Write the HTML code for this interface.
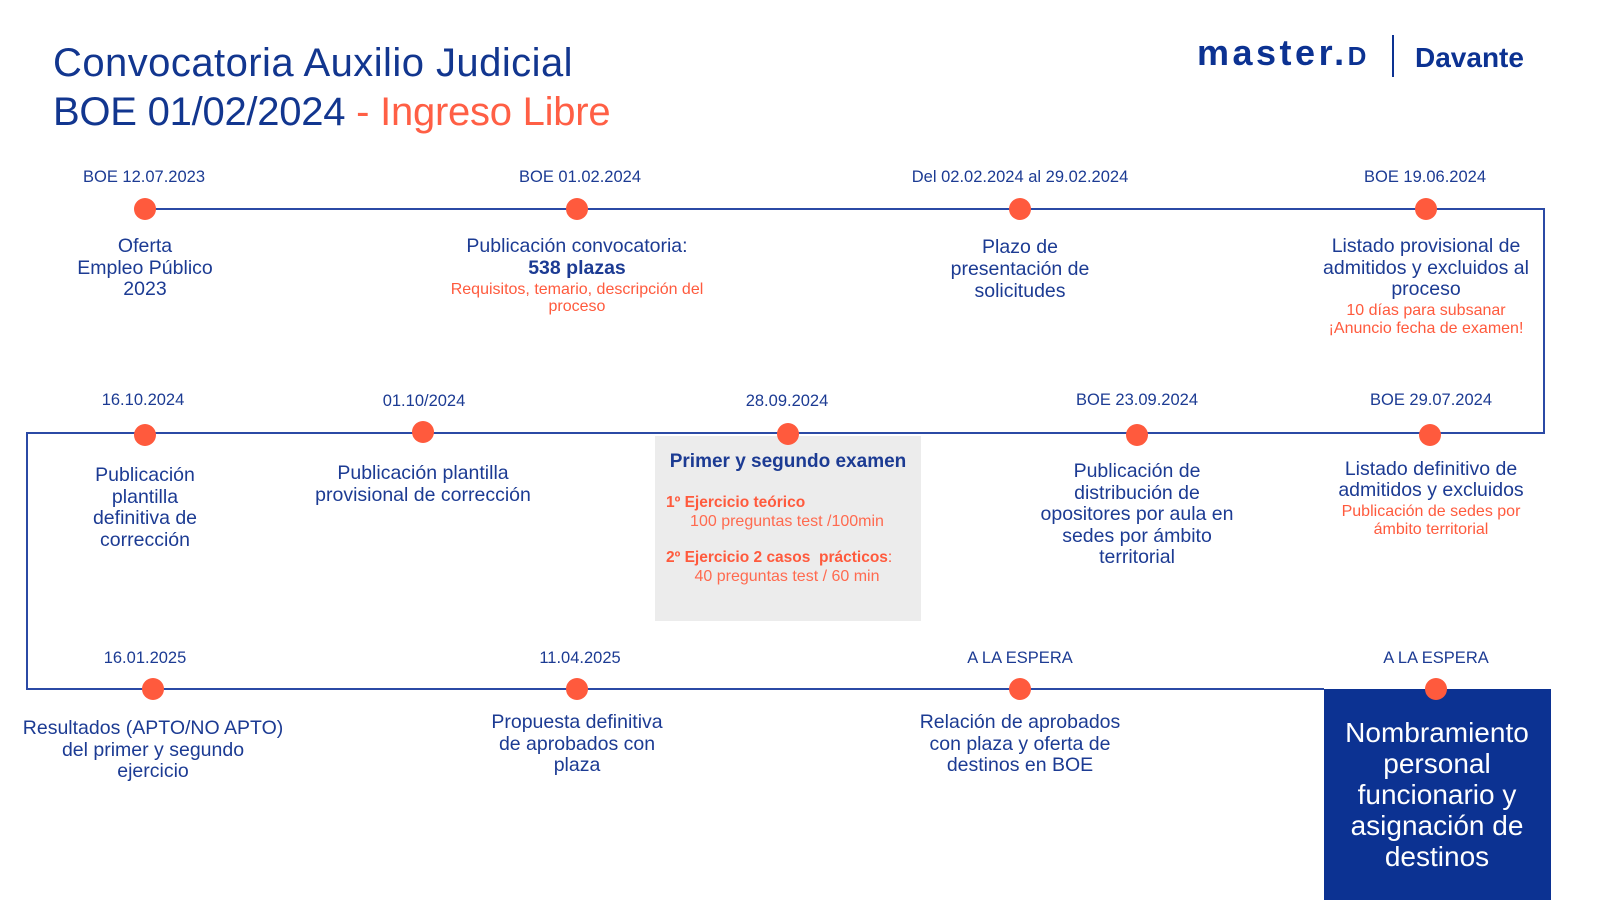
<!DOCTYPE html>
<html>
<head>
<meta charset="utf-8">
<style>
  html,body{margin:0;padding:0;}
  body{width:1600px;height:900px;position:relative;overflow:hidden;background:#fff;font-family:"Liberation Sans",Arial,sans-serif;color:#1c3b93;}
  .a{position:absolute;white-space:nowrap;}
  .c{position:absolute;white-space:nowrap;text-align:center;transform:translateX(-50%);}
  .date{font-size:16.5px;line-height:20px;color:#1c3b93;}
  .lbl{font-size:19.5px;line-height:21.5px;color:#1c3b93;}
  .or{color:#ff5a3d;}
  .sub{font-size:16px;line-height:17.5px;color:#ff5a3d;}
  svg{position:absolute;left:0;top:0;}
</style>
</head>
<body>

<svg width="1600" height="900" viewBox="0 0 1600 900">
  <rect x="655" y="436" width="266" height="185" fill="#ececec"/>
  <rect x="1324" y="689" width="227" height="211" fill="#0c3292"/>
  <g stroke="#2b4aa5" stroke-width="2" fill="none">
    <polyline points="145,209 1544,209 1544,433 27,433 27,689 1324,689"/>
  </g>
  <g fill="#ff5a3d">
    <circle cx="145" cy="209" r="11"/>
    <circle cx="577" cy="209" r="11"/>
    <circle cx="1020" cy="209" r="11"/>
    <circle cx="1426" cy="209" r="11"/>

    <circle cx="145" cy="435" r="11"/>
    <circle cx="423" cy="432" r="11"/>
    <circle cx="788" cy="434" r="11"/>
    <circle cx="1137" cy="435" r="11"/>
    <circle cx="1430" cy="435" r="11"/>

    <circle cx="153" cy="689" r="11"/>
    <circle cx="577" cy="689" r="11"/>
    <circle cx="1020" cy="689" r="11"/>
    <circle cx="1436" cy="689" r="11"/>
  </g>
</svg>

<!-- Title -->
<div class="a" style="left:53px;top:39px;font-size:40px;line-height:49px;color:#12368f;letter-spacing:0.45px;">Convocatoria Auxilio Judicial</div>
<div class="a" style="left:53px;top:88px;font-size:40px;line-height:49px;color:#12368f;letter-spacing:-0.25px;">BOE 01/02/2024 <span style="color:#ff5f45;">- Ingreso Libre</span></div>

<!-- Logo -->
<div class="a" style="left:1197px;top:35px;font-size:36px;line-height:36px;font-weight:bold;color:#0c3292;letter-spacing:3.5px;">master.<span style="font-size:26px;">D</span></div>
<div class="a" style="left:1392px;top:35px;width:2px;height:42px;background:#0c3292;"></div>
<div class="a" style="left:1415px;top:44px;font-size:28px;line-height:28px;font-weight:bold;color:#0c3292;">Davante</div>

<!-- Row 1 dates -->
<div class="c date" style="left:144px;top:167px;">BOE 12.07.2023</div>
<div class="c date" style="left:580px;top:167px;">BOE 01.02.2024</div>
<div class="c date" style="left:1020px;top:167px;">Del 02.02.2024 al 29.02.2024</div>
<div class="c date" style="left:1425px;top:167px;">BOE 19.06.2024</div>

<!-- Row 1 labels -->
<div class="c lbl" style="left:145px;top:236px;">Oferta<br>Empleo Público<br>2023</div>
<div class="c lbl" style="left:577px;top:236px;">Publicación convocatoria:<br><b>538 plazas</b></div>
<div class="c sub" style="left:577px;top:281px;line-height:17px;">Requisitos, temario, descripción del<br>proceso</div>
<div class="c lbl" style="left:1020px;top:236px;line-height:22px;">Plazo de<br>presentación de<br>solicitudes</div>
<div class="c lbl" style="left:1426px;top:236px;">Listado provisional de<br>admitidos y excluidos al<br>proceso</div>
<div class="c sub" style="left:1426px;top:302px;">10 días para subsanar<br>¡Anuncio fecha de examen!</div>

<!-- Row 2 dates -->
<div class="c date" style="left:143px;top:390px;">16.10.2024</div>
<div class="c date" style="left:424px;top:391px;">01.10/2024</div>
<div class="c date" style="left:787px;top:391px;">28.09.2024</div>
<div class="c date" style="left:1137px;top:390px;">BOE 23.09.2024</div>
<div class="c date" style="left:1431px;top:390px;">BOE 29.07.2024</div>

<!-- Row 2 labels -->
<div class="c lbl" style="left:145px;top:465px;line-height:21.7px;">Publicación<br>plantilla<br>definitiva de<br>corrección</div>
<div class="c lbl" style="left:423px;top:462px;line-height:22px;">Publicación plantilla<br>provisional de corrección</div>

<!-- exam box content -->
<div class="c" style="left:788px;top:451px;font-size:19px;line-height:22px;font-weight:bold;color:#1c3b93;">Primer y segundo examen</div>
<div class="a" style="left:666px;top:494px;font-size:15.5px;line-height:18px;font-weight:bold;color:#ff5a3d;">1º Ejercicio teórico</div>
<div class="c" style="left:787px;top:513px;font-size:16px;line-height:18px;color:#ff6a4f;">100 preguntas test /100min</div>
<div class="a" style="left:666px;top:549px;font-size:15.5px;line-height:18px;font-weight:bold;color:#ff5a3d;">2º Ejercicio 2 casos&nbsp; prácticos<span style="font-weight:normal;">:</span></div>
<div class="c" style="left:787px;top:568px;font-size:16px;line-height:18px;color:#ff6a4f;">40 preguntas test / 60 min</div>

<div class="c lbl" style="left:1137px;top:461px;line-height:21.6px;">Publicación de<br>distribución de<br>opositores por aula en<br>sedes por ámbito<br>territorial</div>
<div class="c lbl" style="left:1431px;top:459px;line-height:21px;">Listado definitivo de<br>admitidos y excluidos</div>
<div class="c sub" style="left:1431px;top:503px;line-height:18px;">Publicación de sedes por<br>ámbito territorial</div>

<!-- Row 3 dates -->
<div class="c date" style="left:145px;top:648px;">16.01.2025</div>
<div class="c date" style="left:580px;top:648px;">11.04.2025</div>
<div class="c date" style="left:1020px;top:648px;">A LA ESPERA</div>
<div class="c date" style="left:1436px;top:648px;">A LA ESPERA</div>

<!-- Row 3 labels -->
<div class="c lbl" style="left:153px;top:718px;">Resultados (APTO/NO APTO)<br>del primer y segundo<br>ejercicio</div>
<div class="c lbl" style="left:577px;top:712px;">Propuesta definitiva<br>de aprobados con<br>plaza</div>
<div class="c lbl" style="left:1020px;top:712px;">Relación de aprobados<br>con plaza y oferta de<br>destinos en BOE</div>

<div class="c" style="left:1437px;top:717px;font-size:28px;line-height:31px;color:#ffffff;">Nombramiento<br>personal<br>funcionario y<br>asignación de<br>destinos</div>

</body>
</html>
